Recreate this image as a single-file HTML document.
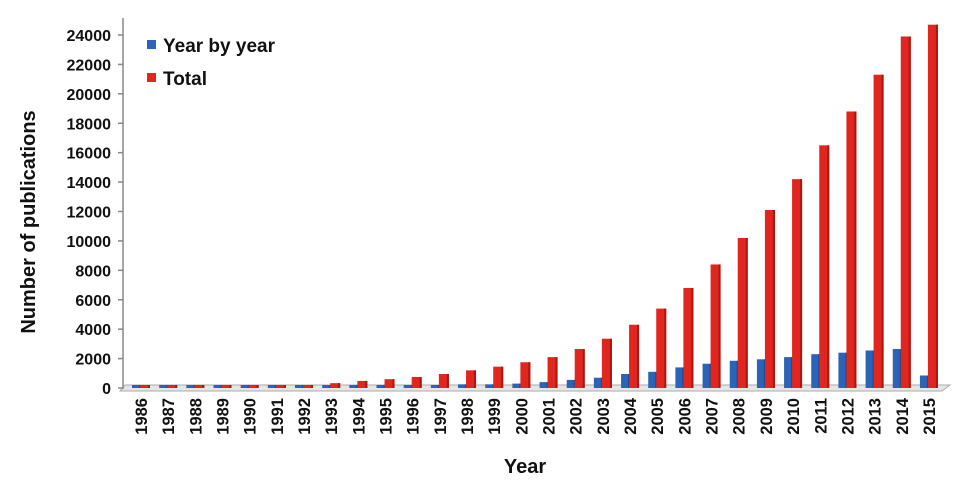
<!DOCTYPE html>
<html><head><meta charset="utf-8"><style>
body{margin:0;background:#fff;}
svg{display:block;font-family:"Liberation Sans",Arial,sans-serif;font-weight:bold;}
</style></head><body>
<svg id="c" width="960" height="493" viewBox="0 0 960 493" xmlns="http://www.w3.org/2000/svg">
<polygon points="125,385 950,385 942,391 120,391" fill="#e6e6e6" stroke="#aaa" stroke-width="1"/>
<line x1="123" y1="18" x2="123" y2="389" stroke="#888" stroke-width="1.5"/>
<g id="ticks"></g>
<g id="bars"></g>
<rect x="147" y="40" width="9" height="9" fill="#2a63b8"/>
<text x="163" y="52" font-size="19" fill="#111">Year by year</text>
<rect x="147" y="73" width="9" height="9" fill="#e0261f"/>
<text x="163" y="85" font-size="19" fill="#111">Total</text>
<text x="525" y="473" font-size="20" text-anchor="middle" fill="#111">Year</text>
<text transform="translate(35,222) rotate(-90)" font-size="20" text-anchor="middle" fill="#111">Number of publications</text>
</svg>
<script>
var NS="http://www.w3.org/2000/svg";
function el(t,a,p,txt){var e=document.createElementNS(NS,t);for(var k in a)e.setAttribute(k,a[k]);if(txt)e.textContent=txt;p.appendChild(e);return e;}
var ticks=document.getElementById('ticks'),bars=document.getElementById('bars');
var y0=388,sc=(388-35)/24000;
for(var v=0;v<=24000;v+=2000){var y=y0-v*sc;
el('line',{x1:118,y1:y,x2:123,y2:y,stroke:'#888','stroke-width':1.5},ticks);
el('text',{x:111,y:y+6,'font-size':16,'text-anchor':'end',fill:'#111'},ticks,String(v));}
var tot=[50,60,70,80,90,120,200,330,480,600,750,950,1200,1450,1750,2100,2650,3350,4300,5400,6800,8400,10200,12100,14200,16500,18800,21300,23900,24700];
var yr=[15,15,15,20,20,30,80,130,150,120,150,200,250,250,300,400,550,700,950,1100,1400,1650,1850,1950,2100,2300,2400,2550,2650,850];
for(var i=0;i<30;i++){var cx=141+i*27.17;
var hb=Math.max(3,yr[i]*sc),ht=Math.max(3,tot[i]*sc);
el('rect',{x:cx-9,y:y0-hb,width:8,height:hb,fill:'#2a63b8'},bars);
el('rect',{x:cx-2,y:y0-hb,width:1.5,height:hb,fill:'#1d4a8c'},bars);
el('rect',{x:cx-1,y:y0-ht,width:10,height:ht,fill:'#e0261f'},bars);
el('rect',{x:cx+7,y:y0-ht,width:2,height:ht,fill:'#a81712'},bars);
el('text',{transform:'translate('+(cx+6)+',398) rotate(-90)','font-size':16.5,'text-anchor':'end',fill:'#111'},bars,String(1986+i));}
</script>
</body></html>
